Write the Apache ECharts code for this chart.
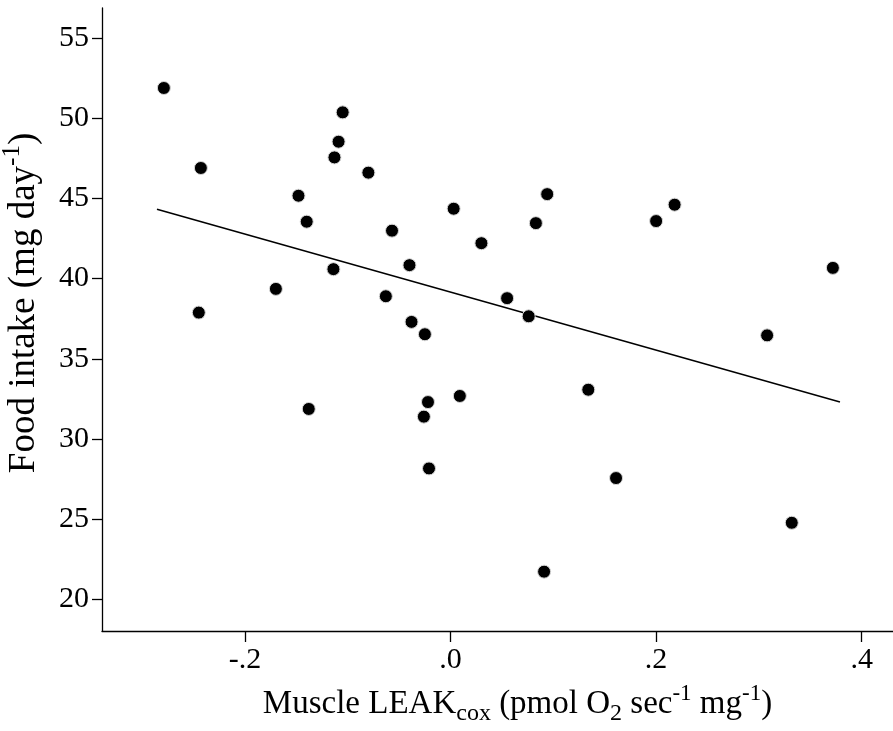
<!DOCTYPE html>
<html>
<head>
<meta charset="utf-8">
<script src="https://cdn.jsdelivr.net/npm/echarts@6/dist/echarts.min.js"></script>
<style>
html,body{margin:0;padding:0;background:#fff;}
#chart{width:893px;height:731px;}
</style>
</head>
<body>
<div id="chart"></div>
<script>
// Muscle LEAK_cox values (x) and food intake (y)
const leakX = [-0.279, -0.105, -0.109, -0.113, -0.243, -0.080, -0.148, -0.140, -0.057, -0.114,
  -0.170, -0.063, -0.245, 0.003, 0.094, 0.218, 0.200, 0.083, 0.030, -0.040,
  0.055, 0.076, -0.038, -0.025, 0.134, 0.009, -0.022, -0.026, -0.138, -0.021,
  0.161, 0.091, 0.372, 0.308, 0.332];
const foodY = [51.89, 50.37, 48.54, 47.56, 46.90, 46.61, 45.17, 43.55, 42.99, 40.59,
  39.36, 38.90, 37.88, 44.36, 45.27, 44.61, 43.59, 43.46, 42.21, 40.84,
  38.78, 37.65, 37.30, 36.53, 33.07, 32.68, 32.30, 31.39, 31.87, 28.16,
  27.56, 21.72, 40.67, 36.46, 24.77];
// Fit line endpoints
const fitX = [-0.2857, 0.3789];
const fitY = [44.33, 32.30];
// Axis ticks
const xTicks = [-0.2, 0, 0.2, 0.4];
const yTicks = [20, 25, 30, 35, 40, 45, 50, 55];
const xRange = [-0.3392, 0.4305];
const yRange = [18.02, 56.88];

const FONT = "'Liberation Serif', 'Times New Roman', serif";
const fmtX = v => {
  if (Math.abs(v) < 1e-9) return '.0';
  const s = Math.abs(v).toFixed(1).replace(/^0/, '');
  return (v < 0 ? '-' : '') + s;
};

const chart = echarts.init(document.getElementById('chart'), null, {renderer: 'canvas'});
chart.setOption({
  animation: false,
  backgroundColor: '#fff',
  grid: {left: 102, right: 0, top: 8, bottom: 100, containLabel: false, outerBoundsMode: 'none'},
  xAxis: {
    type: 'value',
    min: xRange[0], max: xRange[1],
    splitLine: {show: false},
    axisLine: {show: true, onZero: false, lineStyle: {color: '#000', width: 1.3}},
    axisTick: {show: true, length: 11, lineStyle: {color: '#000', width: 1.3}, customValues: xTicks},
    axisLabel: {color: '#000', fontFamily: FONT, fontSize: 30, margin: 14, customValues: xTicks, formatter: fmtX},
    name: 'Muscle LEAK{sub|cox} (pmol O{sub|2} sec{sup|-1} mg{sup|-1})',
    nameLocation: 'middle',
    nameGap: 51,
    nameTextStyle: {
      color: '#000', fontFamily: FONT, fontSize: 33, lineHeight: 44,
      padding: [0, 0, 0, 40],
      rich: {
        sub: {fontFamily: FONT, fontSize: 24, lineHeight: 30, verticalAlign: 'bottom', color: '#000'},
        sup: {fontFamily: FONT, fontSize: 23, lineHeight: 30, verticalAlign: 'top', color: '#000'}
      }
    }
  },
  yAxis: {
    type: 'value',
    min: yRange[0], max: yRange[1],
    splitLine: {show: false},
    axisLine: {show: true, onZero: false, lineStyle: {color: '#000', width: 1.3}},
    axisTick: {show: true, length: 10, lineStyle: {color: '#000', width: 1.3}, customValues: yTicks},
    axisLabel: {color: '#000', fontFamily: FONT, fontSize: 30, margin: 13, customValues: yTicks},
    name: 'Food intake (mg day{sup|-1})',
    nameLocation: 'middle',
    nameGap: 47,
    nameRotate: 90,
    nameTextStyle: {
      color: '#000', fontFamily: FONT, fontSize: 37, lineHeight: 48,
      padding: [0, 0, 0, 33],
      rich: {
        sup: {fontFamily: FONT, fontSize: 25, lineHeight: 32, verticalAlign: 'top', color: '#000'}
      }
    }
  },
  series: [
    {
      type: 'line',
      data: fitX.map((x, i) => [x, fitY[i]]),
      symbol: 'none',
      silent: true,
      lineStyle: {color: '#000', width: 1.5},
      z: 1
    },
    {
      type: 'scatter',
      data: leakX.map((x, i) => [x, foodY[i]]),
      symbol: 'circle',
      symbolSize: 13,
      itemStyle: {color: '#000', borderColor: '#d8d8d8', borderWidth: 1, opacity: 1},
      z: 2
    }
  ]
});
</script>
</body>
</html>
